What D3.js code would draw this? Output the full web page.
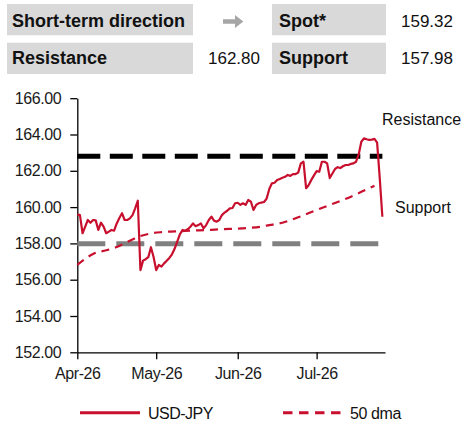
<!DOCTYPE html>
<html>
<head>
<meta charset="utf-8">
<script src="https://cdn.jsdelivr.net/npm/d3@7"></script>
<style>
  body { margin: 0; background: #fff; }
  svg text { font-family: "Liberation Sans", Arial, sans-serif; }
</style>
</head>
<body>
<div id="chart"></div>
<script>
// header table
const headerRows = [
  ["Short-term direction", "", "Spot*", "159.32"],
  ["Resistance", "162.80", "Support", "157.98"]
];

// USD-JPY daily closes, Apr 1 .. Jul 26
const spotDates = [
  "04-01","04-02","04-03","04-04","04-05","04-06","04-07","04-08","04-09","04-10",
  "04-11","04-12","04-13","04-14","04-15","04-16","04-17","04-18","04-19","04-20",
  "04-21","04-22","04-23","04-24","04-25","04-26","04-27","04-28","04-29","04-30",
  "05-01","05-02","05-03","05-04","05-05","05-06","05-07","05-08","05-09","05-10",
  "05-11","05-12","05-13","05-14","05-15","05-16","05-17","05-18","05-19","05-20",
  "05-21","05-22","05-23","05-24","05-25","05-26","05-27","05-28","05-29","05-30",
  "05-31","06-01","06-02","06-03","06-04","06-05","06-06","06-07","06-08","06-09",
  "06-10","06-11","06-12","06-13","06-14","06-15","06-16","06-17","06-18","06-19",
  "06-20","06-21","06-22","06-23","06-24","06-25","06-26","06-27","06-28","06-29",
  "06-30","07-01","07-02","07-03","07-04","07-05","07-06","07-07","07-08","07-09",
  "07-10","07-11","07-12","07-13","07-14","07-15","07-16","07-17","07-18","07-19",
  "07-20","07-21","07-22","07-23","07-24","07-25","07-26"
];
const spotValues = [
  159.60,159.56,158.56,158.92,159.29,159.14,159.29,159.27,158.74,159.14,
  158.92,158.56,158.65,158.74,158.70,159.10,159.40,159.66,159.29,159.29,
  159.38,159.56,159.93,160.35,156.53,157.05,157.13,157.24,157.79,157.25,
  156.53,156.81,156.72,156.90,157.05,157.20,157.40,157.70,158.10,158.50,
  158.74,158.70,158.78,158.92,159.10,158.95,159.01,159.10,158.83,159.01,
  159.29,159.47,159.25,159.20,159.29,159.56,159.70,159.80,159.93,159.95,
  160.21,160.24,160.12,160.21,160.12,160.39,160.30,159.84,160.12,160.21,
  160.25,160.28,160.47,161.00,161.31,161.34,161.49,161.55,161.62,161.67,
  161.77,161.72,161.82,161.82,161.90,162.41,162.50,161.04,161.22,161.50,
  161.75,161.98,161.95,162.50,162.50,162.41,161.60,161.85,162.10,162.20,
  162.15,162.25,162.32,162.32,162.38,162.41,162.50,162.90,163.60,163.79,
  163.74,163.70,163.72,163.76,163.55,161.60,159.47
];

// 50 day moving average
const dmaDates = [
  "04-01","04-05","04-07","04-12","04-16","04-20","04-24","04-29","05-03","05-08",
  "05-14","05-22","05-29","06-05","06-10","06-12","06-18","06-24","07-01","07-06",
  "07-11","07-16","07-21","07-23"
];
const dmaValues = [
  156.82,157.25,157.42,157.62,157.80,158.08,158.35,158.55,158.62,158.66,
  158.70,158.75,158.80,158.85,158.92,158.98,159.14,159.44,159.84,160.12,
  160.39,160.70,161.04,161.18
];

const resistance = 162.80;
const support = 157.98;

const yTicks = [152, 154, 156, 158, 160, 162, 164, 166];
const xTickDates = ["04-01", "05-01", "06-01", "07-01"];

const parse = d3.timeParse("%Y-%m-%d");
const toDate = s => parse("2026-" + s);

const spot = spotDates.map((d, i) => ({ date: toDate(d), value: spotValues[i] }));
const dma = dmaDates.map((d, i) => ({ date: toDate(d), value: dmaValues[i] }));

const width = 469, height = 433;
const red = "#c8102e";

const svg = d3.select("#chart").append("svg")
  .attr("width", width)
  .attr("height", height);

// ---- header boxes
const rowY = [4, 42.7];
const baseY = [27.3, 63.5];
headerRows.forEach((row, r) => {
  const y = rowY[r], by = baseY[r];
  svg.append("rect").attr("x", 7).attr("y", y).attr("width", 186).attr("height", 31.3).attr("fill", "#d9d9d9");
  svg.append("rect").attr("x", 272).attr("y", y).attr("width", 114).attr("height", 31.3).attr("fill", "#d9d9d9");
  svg.append("text").attr("x", 12).attr("y", by)
    .style("font-size", "18px").style("font-weight", "bold").attr("fill", "#111").text(row[0]);
  if (row[1]) {
    svg.append("text").attr("x", 260).attr("y", by).attr("text-anchor", "end")
      .style("font-size", "17px").attr("fill", "#111").text(row[1]);
  }
  svg.append("text").attr("x", 279).attr("y", by)
    .style("font-size", "18px").style("font-weight", "bold").attr("fill", "#111").text(row[2]);
  svg.append("text").attr("x", 453).attr("y", by).attr("text-anchor", "end")
    .style("font-size", "17px").attr("fill", "#111").text(row[3]);
});
// direction arrow (sideways)
svg.append("path")
  .attr("d", "M223,19.2 L235,19.2 L235,15 L243.3,21.5 L235,28 L235,23.8 L223,23.8 Z")
  .attr("fill", "#a6a6a6");

// ---- scales
const x = d3.scaleTime()
  .domain([toDate("04-01"), toDate("07-27")])
  .range([77.3, 385]);
const y = d3.scaleLinear()
  .domain([152, 166])
  .range([352.3, 98.2]);

// ---- axes
const yAxis = svg.append("g")
  .attr("transform", `translate(${x.range()[0]},0)`)
  .call(d3.axisLeft(y).tickValues(yTicks).tickFormat(d3.format(".2f")).tickSize(7).tickSizeOuter(0).tickPadding(9));
yAxis.selectAll("text").style("font-size", "16px").style("letter-spacing", "-0.4px").attr("fill", "#1a1a1a");

const xAxis = svg.append("g")
  .attr("transform", `translate(0,${y.range()[0]})`)
  .call(d3.axisBottom(x).tickValues(xTickDates.map(toDate)).tickFormat(d3.timeFormat("%b-%y")).tickSize(7).tickSizeOuter(0).tickPadding(8));
xAxis.selectAll("text").style("font-size", "16px").style("letter-spacing", "-0.4px").attr("fill", "#1a1a1a");

svg.selectAll(".domain, .tick line").attr("stroke", "#000").attr("stroke-width", 1.3);

// ---- support / resistance
const lastDate = spot[spot.length - 1].date;
svg.append("line")
  .attr("x1", x(toDate("04-01"))).attr("x2", x(lastDate))
  .attr("y1", y(support)).attr("y2", y(support))
  .attr("stroke", "#808080").attr("stroke-width", 5)
  .attr("stroke-dasharray", "28,11");
svg.append("line")
  .attr("x1", x(toDate("04-01"))).attr("x2", x(lastDate))
  .attr("y1", y(resistance)).attr("y2", y(resistance))
  .attr("stroke", "#000").attr("stroke-width", 5)
  .attr("stroke-dasharray", "23,9.5");

// ---- series
const line = d3.line().x(d => x(d.date)).y(d => y(d.value));
svg.append("path").datum(dma)
  .attr("d", line.curve(d3.curveMonotoneX))
  .attr("fill", "none").attr("stroke", red).attr("stroke-width", 2.2)
  .attr("stroke-dasharray", "8,6");
svg.append("path").datum(spot)
  .attr("d", d3.line().x(d => x(d.date)).y(d => y(d.value)))
  .attr("fill", "none").attr("stroke", red).attr("stroke-width", 2.2)
  .attr("stroke-linejoin", "round");

// ---- line labels
svg.append("text").attr("x", 382).attr("y", 125).style("font-size", "16px").attr("fill", "#111").text("Resistance");
svg.append("text").attr("x", 395).attr("y", 213).style("font-size", "16px").attr("fill", "#111").text("Support");

// ---- legend
const legend = svg.append("g");
legend.append("line").attr("x1", 80).attr("x2", 140).attr("y1", 412.7).attr("y2", 412.7)
  .attr("stroke", red).attr("stroke-width", 3);
legend.append("text").attr("x", 148).attr("y", 419).style("font-size", "16px").style("letter-spacing", "-0.5px")
  .attr("fill", "#111").text("USD-JPY");
legend.append("line").attr("x1", 283).attr("x2", 342).attr("y1", 412.7).attr("y2", 412.7)
  .attr("stroke", red).attr("stroke-width", 3).attr("stroke-dasharray", "9.5,6.5");
legend.append("text").attr("x", 350).attr("y", 419).style("font-size", "16px").style("letter-spacing", "-0.4px")
  .attr("fill", "#111").text("50 dma");
</script>
</body>
</html>
